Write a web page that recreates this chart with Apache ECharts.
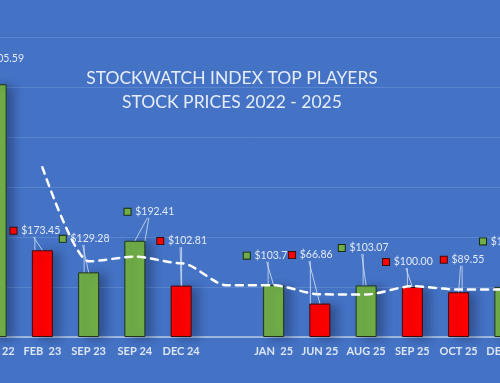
<!DOCTYPE html>
<html>
<head>
<meta charset="utf-8">
<script src="https://cdn.jsdelivr.net/npm/echarts@6/dist/echarts.min.js"></script>
<style>
html,body{margin:0;padding:0;background:#4472c4;overflow:hidden;width:500px;height:383px;}
#c{width:555px;height:396px;margin-left:-26.875px;margin-top:-13px;}
</style>
</head>
<body>
<div id="c"></div>
<script>
const categories = ['DEC 22','FEB  23','SEP 23','SEP 24','DEC 24','','JAN  25','JUN 25','AUG 25','SEP 25','OCT 25','DEC 25'];
const prices = [505.59,173.45,129.28,192.41,102.81,null,103.75,66.86,103.07,100.00,89.55,100.21];
const tones = ['up','down','up','up','down',null,'up','down','up','down','down','up'];
const movingAvg = [null,339.5,151.4,160.8,147.6,103.3,103.3,85.3,85.0,101.5,94.8,94.9];
const yTicks = [0,100,200,300,400,500,600,700];
const titleLines = ['STOCKWATCH INDEX TOP PLAYERS','STOCK PRICES 2022 - 2025'];

// label nudges (layout only)
const labelDx = [3,-7,-4,14.5,1,0,-5,-9,-2.5,-4.5,4,0];
const labelDy = [-15,-9,-23,-18.5,-34,0,-19,-38,-27,-14.5,-22,-35];

const GREEN = '#70ad47', RED = '#ff0000';
const chart = echarts.init(document.getElementById('c'), null, {renderer:'canvas'});

const barData = prices.map((v,i) => v == null ? null : ({
  value: v,
  itemStyle: {
    color: tones[i] === 'up' ? GREEN : RED,
    borderColor: tones[i] === 'up' ? '#1f331a' : '#3a0d0d'
  }
}));

chart.setOption({
  backgroundColor: '#4472c4',
  animation: false,
  title: {
    text: titleLines.join('\n'),
    left: 254,
    top: 74,
    textAlign: 'center',
    textStyle: {color:'#e6edf8', fontFamily:'Lato', fontSize:17.5, fontWeight:'normal', lineHeight:24}
  },
  grid: {left: 0, right: 0, top: 0, bottom: 46, containLabel: false},
  xAxis: {
    type: 'category',
    data: categories,
    axisTick: {show:false},
    axisLine: {lineStyle:{color:'#b9c8e4', width:1.5}},
    axisLabel: {interval:0, color:'#dde6f5', fontFamily:'Lato', fontSize:11, fontWeight:'bold', margin:9}
  },
  yAxis: {
    type: 'value',
    min: yTicks[0], max: yTicks[yTicks.length-1], interval: 100,
    axisLabel: {show:false},
    axisLine: {show:false},
    axisTick: {show:false},
    splitLine: {lineStyle:{color:'#5b86cf', width:1}}
  },
  series: [
    {
      type: 'bar',
      data: barData,
      barWidth: 21,
      z: 2,
      itemStyle: {borderWidth:1, shadowColor:'rgba(20,30,60,0.35)', shadowBlur:8, shadowOffsetX:7, shadowOffsetY:2},
      label: {
        show: true,
        position: 'top',
        formatter: p => '{' + (tones[p.dataIndex]==='up'?'g':'r') + '|}{t| $' + p.value.toFixed(2) + '}',
        rich: {
          g: {width:6, height:6, backgroundColor:GREEN, borderColor:'#1a2a14', borderWidth:1},
          r: {width:6, height:6, backgroundColor:RED, borderColor:'#3a0d0d', borderWidth:1},
          t: {color:'#e3eaf6', fontFamily:'Lato', fontSize:10.5, padding:[0,0,0,2]}
        }
      },
      labelLine: {show: true, lineStyle: {color: 'rgba(215,226,246,0.8)', width: 1}},
      labelLayout: p => ({dx: labelDx[p.dataIndex], dy: labelDy[p.dataIndex]})
    },
    {
      type: 'line',
      data: movingAvg,
      z: 5,
      smooth: 0.3,
      smoothMonotone: 'x',
      symbol: 'none',
      connectNulls: false,
      lineStyle: {color:'#ffffff', width:2.5, type:[7,6], cap:'round'}
    },
    {
      type: 'custom',
      coordinateSystem: 'cartesian2d',
      data: prices.map((v, i) => [i, v == null ? 0 : v]),
      z: 10,
      renderItem: function (params, api) {
        const i = params.dataIndex;
        if (prices[i] == null || i === 0) return null;
        const top = api.coord([i, prices[i]]);
        return {
          type: 'line',
          shape: {x1: top[0] + labelDx[i] - 2, y1: top[1] - 11.5 + labelDy[i] + 7, x2: top[0], y2: top[1]},
          style: {stroke: '#d7e2f6', opacity: 0.8, lineWidth: 1}
        };
      }
    }
  ]
});
</script>
</body>
</html>
